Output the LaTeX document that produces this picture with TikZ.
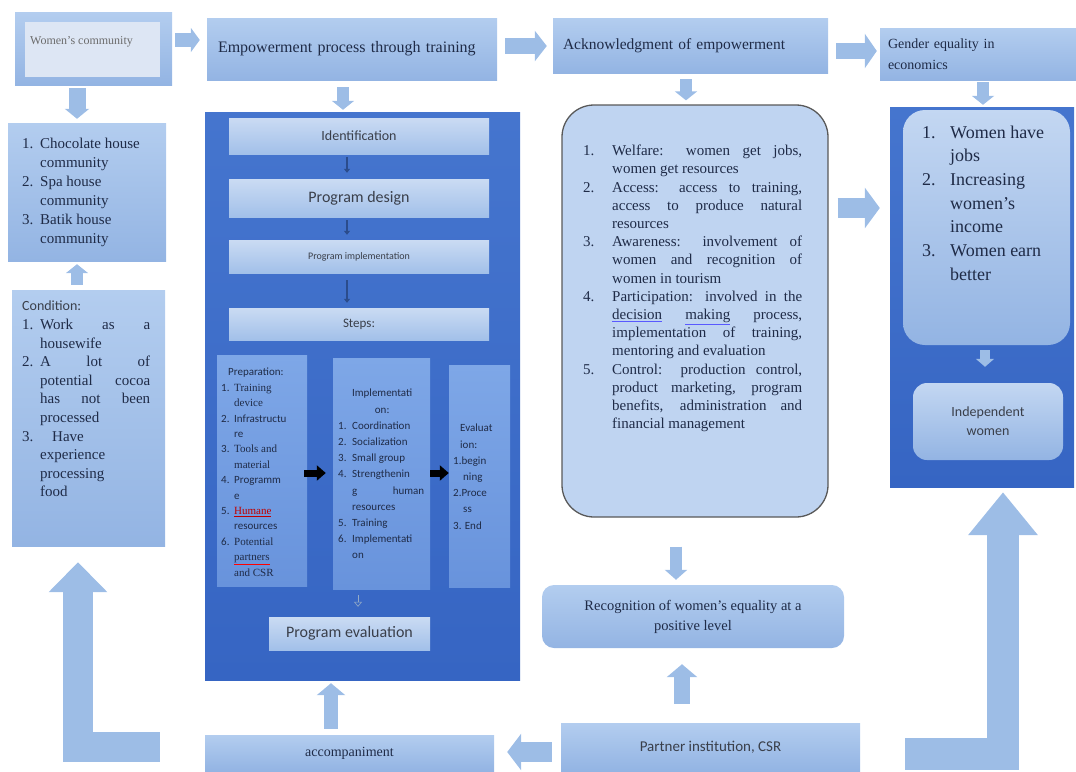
\documentclass[tikz,border=0pt]{standalone}
\usepackage{fontspec}
\setmainfont{Liberation Serif}
\newfontfamily\calf{Carlito}
\usetikzlibrary{arrows.meta,fit}
\newcommand\fsz[2]{\fontsize{#1}{#2}\selectfont}
\newcommand\jw[2]{\makebox[#1][s]{#2}}
\newcommand\nb[2]{\makebox[#1][l]{#2}}
\definecolor{arrowc}{HTML}{9DBDE6}
\definecolor{boxtop}{HTML}{B3CDEF}
\definecolor{boxbot}{HTML}{93B4E3}
\definecolor{paneltop}{HTML}{4575CE}
\definecolor{panelbot}{HTML}{3665C3}
\definecolor{inntop}{HTML}{CADBF3}
\definecolor{innbot}{HTML}{A2C0E9}
\definecolor{subtop}{HTML}{7EA7E7}
\definecolor{subbot}{HTML}{6893DC}
\definecolor{midfill}{HTML}{BFD4F1}
\definecolor{ink}{HTML}{1F2B47}
\definecolor{sink}{HTML}{3A3F4A}
\definecolor{tinyarr}{HTML}{2B4C8C}
\definecolor{wcin}{HTML}{DDE6F4}
\newcommand\bul[1]{{\color{blue!65!white}\underline{\color{ink}#1}}}
\newcommand\rul[1]{{\color{red}\underline{\color{ink}#1}}}
\tikzset{
  bx/.style={inner sep=0pt, top color=boxtop, bottom color=boxbot, draw=none},
  inbx/.style={inner sep=0pt, top color=inntop, bottom color=innbot, draw=none},
  subbx/.style={inner sep=0pt, top color=subtop, bottom color=subbot, draw=none},
  panelbx/.style={inner sep=0pt, top color=paneltop, bottom color=panelbot, draw=none},
  sz/.style args={#1x#2}{minimum width=#1pt, minimum height=#2pt},
  barr/.style args={#1/#2/#3}{draw=arrowc, line width=#1pt, -{Triangle[width=#2pt,length=#3pt]}},
  tinyar/.style={draw=tinyarr, line width=2.2pt, -{Triangle[width=6pt,length=4pt]}},
  blkar/.style={draw=black, line width=7pt, -{Triangle[width=15pt,length=9pt]}},
  tx/.style={inner sep=0pt, text=ink, align=left},
}
\begin{document}
\begin{tikzpicture}[x=1pt,y=-1pt]
\useasboundingbox (0,0) rectangle (1076,771);
% ---------- top row
\node[bx, fit={(15,12) (172,85)}] (wc) {};
\node[inner sep=0pt, fill=wcin, fit={(25,22) (160,77)}] (wcin) {};
\node[anchor=west, inner sep=0pt, text=gray!85!black, font=\fsz{12}{14}] (wct) at (30,42) {Women's community};
\node[bx, sz=290x62, text width=268pt, align=left, text=ink, font=\fsz{16}{19}] (emp) at (352,49) {Empowerment process through training};
\node[bx, sz=275x55, text width=255pt, align=left, text=ink, font=\fsz{15.5}{19}] (ack) at (690.5,45.5) {Acknowledgment of empowerment};
\node[bx, sz=196x52, text width=180pt, align=left, text=ink, font=\fsz{14}{21}] (gen) at (978,54) {Gender equality in\\economics};
% ---------- left column
\node[bx, fit={(8,123) (166,261)}] (list) {};
\node[tx, anchor=north west, font=\fsz{15}{19}] (listt) at (22,138) {\nb{18pt}{1.}Chocolate house\\ \hspace*{18pt}community\\ \nb{18pt}{2.}Spa house\\ \hspace*{18pt}community\\ \nb{18pt}{3.}Batik house\\ \hspace*{18pt}community};
\node[bx, fit={(12,290) (165,546)}] (cond) {};
\node[tx, anchor=north west, font=\fsz{15}{18.6}] (condt) at (22,301) {{\calf\fsz{14}{18.6}\color{sink}Condition:}\\
\nb{18pt}{1.}\jw{110pt}{Work as a}\\
\hspace*{18pt}housewife\\
\nb{18pt}{2.}\jw{110pt}{A lot of}\\
\hspace*{18pt}\jw{110pt}{potential cocoa}\\
\hspace*{18pt}\jw{110pt}{has not been}\\
\hspace*{18pt}processed\\
\nb{30pt}{3.}Have\\
\hspace*{18pt}experience\\
\hspace*{18pt}processing\\
\hspace*{18pt}food};
% ---------- central panel
\node[panelbx, fit={(205,112) (520,680)}] (panel) {};
\node[inbx, sz=260x36, text=sink, font=\calf\fsz{14}{16}] (ident) at (359,136) {Identification};
\node[inbx, sz=260x38, text=sink, font=\calf\fsz{16}{18}] (design) at (359,198) {Program design};
\node[inbx, sz=260x33, text=sink, font=\calf\fsz{10}{12}] (impl) at (359,256.5) {Program implementation};
\node[inbx, sz=260x32, text=sink, font=\calf\fsz{13}{15}] (steps) at (359,324) {Steps:};
\node[subbx, fit={(217,355) (307,586)}] (prep) {};
\node[subbx, fit={(333,358) (430,589)}] (imp2) {};
\node[subbx, fit={(449,365) (510,587)}] (evalb) {};
\node[inbx, sz=161x33, text=sink, font=\calf\fsz{16}{18}] (progeval) at (349.5,633.5) {Program evaluation};
\node[tx, anchor=north west, font=\calf\fsz{11}{15.4}] (prept) at (221,368) {\hspace*{7pt}Preparation:\\
\nb{13pt}{1.}{\rmfamily Training}\\ \hspace*{13pt}{\rmfamily device}\\
\nb{13pt}{2.}Infrastructu\\ \hspace*{13pt}re\\
\nb{13pt}{3.}{\rmfamily Tools and}\\ \hspace*{13pt}{\rmfamily material}\\
\nb{13pt}{4.}Programm\\ \hspace*{13pt}e\\
\nb{13pt}{5.}{\color{red!75!black}\underline{\rmfamily Humane}}\\ \hspace*{13pt}resources\\
\nb{13pt}{6.}{\rmfamily Potential}\\ \hspace*{13pt}\rul{\rmfamily partners}\\ \hspace*{13pt}{\rmfamily and CSR}};
\node[tx, anchor=north west, font=\calf\fsz{11}{16.2}] (imp2t) at (338,389) {\makebox[88pt][c]{Implementati}\\ \makebox[88pt][c]{on:}\\
\nb{14pt}{1.}Coordination\\
\nb{14pt}{2.}Socialization\\
\nb{14pt}{3.}Small group\\
\nb{14pt}{4.}Strengthenin\\
\hspace*{14pt}\jw{72pt}{g human}\\
\hspace*{14pt}resources\\
\nb{14pt}{5.}Training\\
\nb{14pt}{6.}Implementati\\
\hspace*{14pt}on};
\node[tx, anchor=north west, font=\calf\fsz{11}{16.2}] (evalt) at (453,424) {\hspace*{7pt}Evaluat\\ \hspace*{7pt}ion:\\ 1.begin\\ \hspace*{10pt}ning\\ 2.Proce\\ \hspace*{10pt}ss\\ 3. End};
% ---------- middle column
\node[fit={(562,105) (828,517)}, inner sep=0pt, rounded corners=32pt, fill=midfill, draw=black!65, line width=1.3pt] (mid) {};
\node[tx, anchor=north west, font=\fsz{15}{18.2}] (midt) at (583,145) {\nb{29pt}{1.}\jw{190pt}{Welfare: women get jobs,}\\
\hspace*{29pt}women get resources\\
\nb{29pt}{2.}\jw{190pt}{Access: access to training,}\\
\hspace*{29pt}\jw{190pt}{access to produce natural}\\
\hspace*{29pt}resources\\
\nb{29pt}{3.}\jw{190pt}{Awareness: involvement of}\\
\hspace*{29pt}\jw{190pt}{women and recognition of}\\
\hspace*{29pt}women in tourism\\
\nb{29pt}{4.}\jw{190pt}{Participation: involved in the}\\
\hspace*{29pt}\jw{190pt}{\bul{decision} \bul{making} process,}\\
\hspace*{29pt}\jw{190pt}{implementation of training,}\\
\hspace*{29pt}mentoring and evaluation\\
\nb{29pt}{5.}\jw{190pt}{Control: production control,}\\
\hspace*{29pt}\jw{190pt}{product marketing, program}\\
\hspace*{29pt}\jw{190pt}{benefits, administration and}\\
\hspace*{29pt}financial management};
\node[inner sep=0pt, top color=boxtop, bottom color=boxbot, rounded corners=12pt, sz=302x63, text=ink, font=\fsz{14.5}{20}, align=center] (recog) at (693,616.5) {Recognition of women's equality at a\\positive level};
% ---------- right column
\node[panelbx, fit={(890,107) (1074,487)}] (rpanel) {};
\node[inner sep=0pt, top color=inntop!70!boxtop, bottom color=boxbot, rounded corners=22pt, fit={(903,110) (1070,345)}] (rin) {};
\node[tx, anchor=north west, font=\fsz{18}{23.7}] (rint) at (922,125.5) {\nb{28pt}{1.}Women have\\ \hspace*{28pt}jobs\\ \nb{28pt}{2.}Increasing\\ \hspace*{28pt}women's\\ \hspace*{28pt}income\\ \nb{28pt}{3.}Women earn\\ \hspace*{28pt}better};
\node[inner sep=0pt, top color=inntop!70!boxtop, bottom color=boxbot, rounded corners=14pt, sz=150x77, text=sink, font=\calf\fsz{14}{19}, align=center] (indep) at (988,421.5) {Independent\\women};
% ---------- bottom row
\node[bx, sz=299x48, text=sink, font=\calf\fsz{15}{18}] (partner) at (710.5,747) {Partner institution, CSR};
\node[bx, sz=289x36, text=ink, font=\fsz{14}{18}] (acc) at (349.5,753) {accompaniment};
% ---------- block arrows
\draw[barr=14/24/9, shorten <=3pt, shorten >=7pt] ([yshift=8.5pt]wc.east) -- ([yshift=9pt]emp.west);
\draw[barr=16/30/12, shorten <=8pt, shorten >=6pt] ([yshift=3pt]emp.east) -- ([yshift=-0.5pt]ack.west);
\draw[barr=16/34/12, shorten <=8pt, shorten >=3pt] ([yshift=-5.5pt]ack.east) -- ([yshift=3pt]gen.west);
\draw[barr=17/24/10, shorten <=3pt, shorten >=4pt] ([xshift=-16.5pt]wc.south) -- ([xshift=-10pt]list.north);
\draw[barr=12/22/9, shorten <=7pt, shorten >=2pt] ([xshift=-9pt]emp.south) -- ([xshift=-19.5pt]panel.north);
\draw[barr=12/22/9, shorten <=6pt, shorten >=4pt] ([xshift=-4.5pt]ack.south) -- ([xshift=-9pt]mid.north);
\draw[barr=12/22/9, shorten <=2pt, shorten >=2pt] ([xshift=5pt]gen.south) -- ([xshift=1pt]rpanel.north);
\draw[barr=12/22/9, shorten <=5pt, shorten >=3pt] ([xshift=-11.5pt]cond.north) -- ([xshift=-10pt]list.south);
\draw[barr=20/40/15, shorten <=9pt, shorten >=10pt] ([yshift=103pt]mid.east) -- ([yshift=89pt]rpanel.west);
\draw[barr=12/22/10, shorten <=29pt, shorten >=5pt] ([xshift=-19pt]mid.south) -- ([xshift=-17pt]recog.north);
\draw[barr=16/30/13, shorten <=19pt, shorten >=16pt] ([xshift=-28.5pt]partner.north) -- ([xshift=-11pt]recog.south);
\draw[barr=20/36/14, shorten <=9pt, shorten >=13pt] ([yshift=-5pt]partner.west) -- ([yshift=1pt]acc.east);
\draw[barr=14/28/12, shorten <=6pt, shorten >=3pt] ([xshift=-18.5pt]acc.north) -- ([xshift=-31.5pt]panel.south);
\draw[barr=30/57/30, shorten >=16pt] ([xshift=-45pt,yshift=6pt]acc.west) -| ([xshift=-10.5pt]cond.south);
\draw[barr=32/67/43, shorten >=5pt] ([xshift=45pt,yshift=-7pt]partner.east) -| ([xshift=21pt]rpanel.south);
\draw[barr=10/18/8, shorten <=5pt, shorten >=16pt] ([xshift=-1.5pt]rin.south) -- ([xshift=-3pt]indep.north);
% ---------- arrows inside the panel
\draw[tinyar, shorten <=3pt, shorten >=6pt] ([xshift=-12pt]ident.south) -- ([xshift=-12pt]design.north);
\draw[tinyar, shorten <=3pt, shorten >=5pt] ([xshift=-12pt]design.south) -- ([xshift=-12pt]impl.north);
\draw[tinyar, shorten <=7pt, shorten >=5pt] ([xshift=-12pt]impl.south) -- ([xshift=-12pt]steps.north);
\draw[blkar, shorten <=-3pt, shorten >=7pt] ([yshift=-2.5pt]prep.east) -- ([yshift=0.5pt]imp2.west);
\draw[blkar] ([yshift=0.5pt]imp2.east) -- ([yshift=3pt]evalb.west);
\draw[draw=arrowc!70!gray, line width=0.6pt, -{Triangle[open,width=8pt,length=5pt]}, shorten <=6pt, shorten >=10pt] ([xshift=-23.5pt]imp2.south) -- ([xshift=8.5pt]progeval.north);
\end{tikzpicture}
\end{document}
